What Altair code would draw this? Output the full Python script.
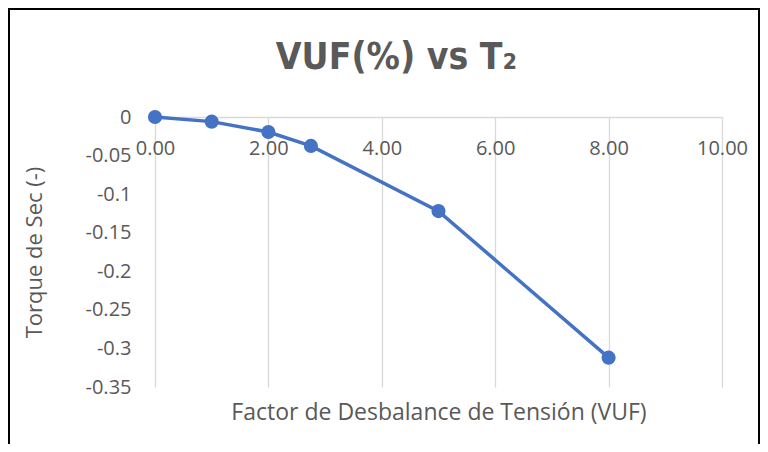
import altair as alt
import pandas as pd

vuf = [0.0, 1.0, 2.0, 2.75, 5.0, 8.0]
torque = [0.0, -0.006, -0.0195, -0.0375, -0.122, -0.312]
x_ticks = [0, 2, 4, 6, 8, 10]
y_ticks = [0, -0.05, -0.1, -0.15, -0.2, -0.25, -0.3, -0.35]

df = pd.DataFrame({"vuf": vuf, "torque": torque})

W, H = 567, 270
GRAY = "#595959"
BLUE = "#4472C4"
FONT = "Open Sans"

x_enc = alt.X(
    "vuf:Q",
    scale=alt.Scale(domain=[0, 10], nice=False, zero=False),
    axis=alt.Axis(
        values=x_ticks, format=".2f", orient="bottom", offset=-H,
        grid=True, gridColor="#d9d9d9", gridWidth=1.3,
        domain=True, domainColor="#d9d9d9", domainWidth=1.3,
        ticks=False, labelPadding=21, labelFontSize=20, labelColor=GRAY,
        labelFont=FONT, labelFlush=False, labelOverlap=False,
        title="Factor de Desbalance de Tensión (VUF)",
        titleFont=FONT, titleFontSize=23, titleFontWeight="normal",
        titleColor=GRAY, titleY=H + 25, titleBaseline="middle",
    ),
)
y_enc = alt.Y(
    "torque:Q",
    scale=alt.Scale(domain=[-0.35, 0], nice=False, zero=False),
    axis=alt.Axis(
        values=y_ticks, grid=False, domain=False, ticks=False,
        labelExpr="replace(format(datum.value, '~g'), '\u2212', '-')",
        labelPadding=24, labelFontSize=20, labelColor=GRAY, labelFont=FONT,
        labelOverlap=False, labelFlush=False, labelBound=False,
        title="Torque de Sec (-)", titleFont=FONT, titleFontSize=22,
        titleFontWeight="normal", titleColor=GRAY, titlePadding=39,
    ),
)

line = alt.Chart(df).mark_line(
    color=BLUE, strokeWidth=3.5,
    point=alt.OverlayMarkDef(filled=True, size=200, color=BLUE, opacity=1),
).encode(x=x_enc, y=y_enc)

frame = alt.Chart(pd.DataFrame({"a": [0]})).mark_rect(
    fill=None, stroke="black", strokeWidth=2
).encode(
    x=alt.value(-146), x2=alt.value(W + 37),
    y=alt.value(-108), y2=alt.value(H + 80),
)

chart = alt.layer(line, frame).properties(
    width=W, height=H,
    padding={"left": 147, "top": 109, "right": 38, "bottom": 57},
    autosize=alt.AutoSizeParams(type="none"),
    title=alt.Title(
        "VUF(%) vs T₂", font="DejaVu Sans Condensed, Roboto", fontSize=37,
        fontWeight="bold", color=GRAY, anchor="middle", baseline="alphabetic",
        offset=-98, dx=-42,
    ),
).configure_view(stroke=None)

chart.save("out.html", embed_options={"renderer": "svg", "actions": False})
